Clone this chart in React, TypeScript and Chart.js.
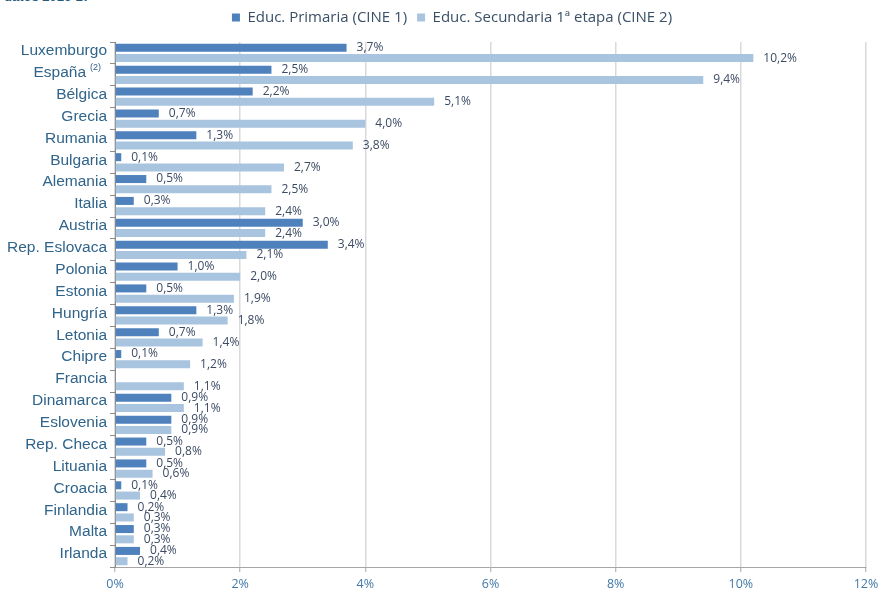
import React, { useEffect, useRef } from "react";
import { Chart, registerables } from "chart.js";

Chart.register(...registerables);

const categories = [
  "Luxemburgo", "España", "Bélgica", "Grecia", "Rumania", "Bulgaria", "Alemania", "Italia",
  "Austria", "Rep. Eslovaca", "Polonia", "Estonia", "Hungría", "Letonia", "Chipre", "Francia",
  "Dinamarca", "Eslovenia", "Rep. Checa", "Lituania", "Croacia", "Finlandia", "Malta", "Irlanda",
];
const primaria = [3.7, 2.5, 2.2, 0.7, 1.3, 0.1, 0.5, 0.3, 3.0, 3.4, 1.0, 0.5, 1.3, 0.7, 0.1, null, 0.9, 0.9, 0.5, 0.5, 0.1, 0.2, 0.3, 0.4];
const secundaria = [10.2, 9.4, 5.1, 4.0, 3.8, 2.7, 2.5, 2.4, 2.4, 2.1, 2.0, 1.9, 1.8, 1.4, 1.2, 1.1, 1.1, 0.9, 0.8, 0.6, 0.4, 0.3, 0.3, 0.2];
const seriesNames = ["Educ. Primaria (CINE 1)", "Educ. Secundaria 1ª etapa (CINE 2)"];
const superscripts: Record<string, string> = { "España": "(2)" };

const fmt = (v: number) => v.toFixed(1).replace(".", ",") + "%";

const dataLabelPlugin = {
  id: "dataLabels",
  afterDatasetsDraw(chart: any) {
    const ctx = chart.ctx;
    ctx.save();
    ctx.font = '12px "Open Sans", sans-serif';
    ctx.fillStyle = "#3c4b64";
    ctx.textAlign = "left";
    ctx.textBaseline = "middle";
    chart.data.datasets.forEach((ds: any, di: number) => {
      const meta = chart.getDatasetMeta(di);
      meta.data.forEach((el: any, i: number) => {
        const v = ds.data[i];
        if (v === null || v === undefined) return;
        ctx.fillText(fmt(v), el.x + 10, el.y);
      });
    });
    ctx.restore();
  },
};

const yLabelPlugin = {
  id: "yLabels",
  afterDraw(chart: any) {
    const ctx = chart.ctx;
    const ys = chart.scales.y;
    const right = chart.chartArea.left - 8;
    ctx.save();
    ctx.fillStyle = "#30648a";
    ctx.textBaseline = "middle";
    ctx.textAlign = "right";
    categories.forEach((c, i) => {
      const y = ys.getPixelForValue(i) - 2;
      const sup = superscripts[c];
      if (sup) {
        ctx.font = '9px "Liberation Sans", Arial, sans-serif';
        const supRight = right - 6;
        ctx.fillText(sup, supRight, y - 5);
        const w = ctx.measureText(sup).width;
        ctx.font = '15.5px "Liberation Sans", Arial, sans-serif';
        ctx.fillText(c, supRight - w - 4, y);
      } else {
        ctx.font = '15.5px "Liberation Sans", Arial, sans-serif';
        ctx.fillText(c, right, y);
      }
    });
    ctx.restore();
  },
};

export default function App() {
  const ref = useRef<HTMLCanvasElement | null>(null);
  useEffect(() => {
    if (!ref.current) return;
    const chart = new Chart(ref.current, {
      type: "bar",
      data: {
        labels: categories,
        datasets: [
          { label: seriesNames[0], data: primaria, backgroundColor: "#4f81bd", barPercentage: 0.78, categoryPercentage: 0.94, xAxisID: "x" },
          { label: seriesNames[1], data: secundaria, backgroundColor: "#a9c4df", barPercentage: 0.78, categoryPercentage: 0.94, xAxisID: "x" },
        ],
      },
      options: {
        indexAxis: "y",
        responsive: false,
        animation: false,
        layout: { padding: { left: 26, right: 0, top: 0, bottom: 0 } },
        plugins: {
          legend: {
            display: true,
            position: "top",
            labels: {
              boxWidth: 8,
              boxHeight: 8,
              padding: 10,
              color: "#3a4f66",
              font: { family: '"Open Sans", sans-serif', size: 15 },
            },
          },
          tooltip: { enabled: false },
        },
        scales: {
          x: {
            min: 0,
            max: 12,
            ticks: {
              stepSize: 2,
              callback: (v: any) => v + "%",
              color: "#4079a8",
              font: { family: '"Open Sans", sans-serif', size: 12.5 },
              padding: 5,
            },
            grid: { color: "#d9d9d9", lineWidth: 1.5, tickLength: 5, tickColor: "#a6a6a6", tickWidth: 1 },
            border: { color: "#a6a6a6", width: 1 },
            afterFit: (s: any) => { s.height = 24; s.paddingRight = 12; s.paddingLeft = 0; },
          },
          xTopSpacer: {
            type: "linear",
            axis: "x",
            position: "top",
            min: 0,
            max: 12,
            display: true,
            ticks: { display: false },
            grid: { display: false, drawTicks: false },
            border: { display: false },
            afterFit: (s: any) => { s.height = 7; s.paddingRight = 0; s.paddingLeft = 0; },
          },
          y: {
            ticks: { display: false },
            grid: { drawOnChartArea: false, drawTicks: true, tickLength: 5, offset: true, color: "#8c8c8c" },
            border: { color: "#8c8c8c", width: 1 },
            afterFit: (s: any) => { s.width = 89; },
          },
        },
      },
      plugins: [dataLabelPlugin, yLabelPlugin],
    } as any);
    return () => chart.destroy();
  }, []);
  return (
    <div style={{ position: "fixed", left: 0, top: 0, width: 878, height: 591, background: "#fff", overflow: "hidden" }}>
      <div
        style={{
          position: "absolute",
          left: 4,
          top: -10,
          fontFamily: '"Liberation Sans", Arial, sans-serif',
          fontWeight: "bold",
          fontSize: 13,
          lineHeight: "13px",
          color: "#245a7e",
          whiteSpace: "nowrap",
        }}
      >
        datos 2016-17
      </div>
      <canvas ref={ref} width={878} height={591} style={{ display: "block", position: "absolute", left: 0, top: 0 }} />
    </div>
  );
}
